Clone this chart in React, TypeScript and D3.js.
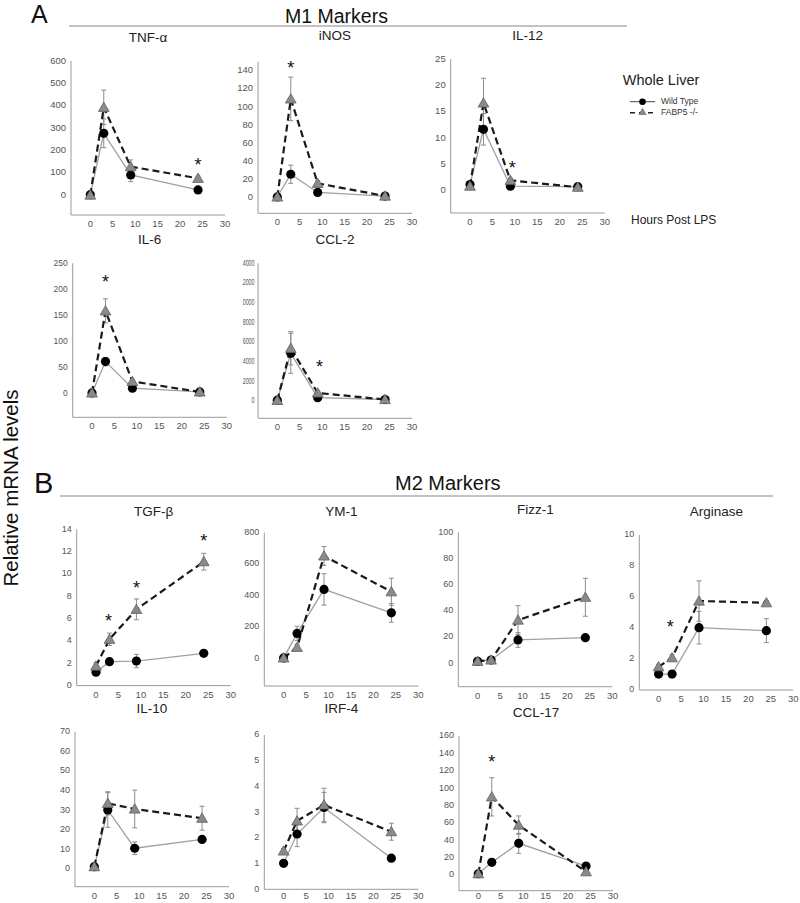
import React from "react";
import * as d3 from "d3";

// ---------- DATA ----------
const hours = [0, 3, 9, 24];
const xTicks = [0, 5, 10, 15, 20, 25, 30];

const tnfWT = [3, 277, 91, 24];
const tnfWTErr = [3, 64, 30, 5];
const tnfKO = [1, 393, 128, 76];
const tnfKOErr = [3, 77, 30, 10];
const tnfTicks = [0, 100, 200, 300, 400, 500, 600];
const tnfStars = [[24, 153]];

const inosWT = [1, 26, 6, 2];
const inosWTErr = [1, 10, 2, 0.5];
const inosKO = [1, 109, 16, 2];
const inosKOErr = [0.5, 24, 3, 0.5];
const inosTicks = [0, 20, 40, 60, 80, 100, 120, 140];
const inosStars = [[3, 148]];

const il12WT = [1.2, 11.7, 0.9, 0.8];
const il12WTErr = [0.3, 3, 0.2, 0.2];
const il12KO = [0.9, 16.7, 2.0, 0.7];
const il12KOErr = [0.3, 4.7, 0.4, 0.2];
const il12Ticks = [0, 5, 10, 15, 20, 25];
const il12Stars = [[9.4, 5.2]];

const il6WT = [2, 62, 11, 4];
const il6WTErr = [1, 8, 3, 1];
const il6KO = [2, 159, 24, 4];
const il6KOErr = [1, 23, 4, 1];
const il6Ticks = [0, 50, 100, 150, 200, 250];
const il6Stars = [[3, 221]];

const ccl2WT = [80, 4850, 340, 150];
const ccl2WTErr = [50, 2035, 150, 50];
const ccl2KO = [60, 5360, 820, 150];
const ccl2KOErr = [50, 1690, 200, 50];
const ccl2Ticks = [0, 2000, 4000, 6000, 8000, 10000, 12000, 14000];
const ccl2Stars = [[9.4, 3830]];

const tgfWT = [1.2, 2.14, 2.2, 2.89];
const tgfWTErr = [0.3, 0.2, 0.6, 0.15];
const tgfKO = [1.75, 4.15, 6.83, 11.1];
const tgfKOErr = [0.3, 0.55, 0.93, 0.75];
const tgfTicks = [0, 2, 4, 6, 8, 10, 12, 14];
const tgfStars = [[2.8, 6.1], [9, 9.1], [24, 13.3]];

const ym1WT = [3, 159, 439, 290];
const ym1WTErr = [5, 45, 100, 60];
const ym1KO = [3, 70, 652, 424];
const ym1KOErr = [5, 20, 60, 86];
const ym1Ticks = [0, 200, 400, 600, 800];
const ym1Stars: number[][] = [];

const fizzWT = [1.5, 2.5, 17.8, 19.5];
const fizzWTErr = [0.5, 1, 5.6, 1.5];
const fizzKO = [1.5, 2.5, 33, 50.4];
const fizzKOErr = [0.5, 1, 11, 14.5];
const fizzTicks = [0, 20, 40, 60, 80, 100];
const fizzStars: number[][] = [];

const argWT = [1.03, 1.03, 4.02, 3.83];
const argWTErr = [0.1, 0.1, 1.05, 0.77];
const argKO = [1.5, 2.08, 5.74, 5.63];
const argKOErr = [0.15, 0.2, 1.3, 0.15];
const argTicks = [0, 2, 4, 6, 8, 10];
const argStars = [[2.6, 4.3]];

const il10WT = [1.2, 30.1, 10.6, 15.1];
const il10WTErr = [0.5, 8.8, 3.2, 1.5];
const il10KO = [1.2, 33.5, 30.6, 25.9];
const il10KOErr = [0.5, 5.9, 9.6, 6.1];
const il10Ticks = [0, 10, 20, 30, 40, 50, 60, 70];
const il10Stars: number[][] = [];

const irfWT = [1.01, 2.15, 3.18, 1.21];
const irfWTErr = [0.05, 0.49, 0.59, 0.05];
const irfKO = [1.49, 2.66, 3.28, 2.24];
const irfKOErr = [0.1, 0.49, 0.65, 0.33];
const irfTicks = [0, 1, 2, 3, 4, 5, 6];
const irfStars: number[][] = [];

const ccl17WT = [1.5, 14.6, 36.5, 10.4];
const ccl17WTErr = [0.5, 2, 11.5, 2];
const ccl17KO = [1.5, 90, 57.5, 3.8];
const ccl17KOErr = [0.5, 22, 10.5, 2];
const ccl17Ticks = [0, 20, 40, 60, 80, 100, 120, 140, 160];
const ccl17Stars = [[3, 135]];

const panelNames = ["TNF-α", "iNOS", "IL-12", "IL-6", "CCL-2", "TGF-β", "YM-1", "Fizz-1", "Arginase", "IL-10", "IRF-4", "CCL-17"];
const legendLabels = ["Wild Type", "FABP5 -/-"];

const series = [
  [tnfWT, tnfWTErr, tnfKO, tnfKOErr, tnfTicks, tnfStars],
  [inosWT, inosWTErr, inosKO, inosKOErr, inosTicks, inosStars],
  [il12WT, il12WTErr, il12KO, il12KOErr, il12Ticks, il12Stars],
  [il6WT, il6WTErr, il6KO, il6KOErr, il6Ticks, il6Stars],
  [ccl2WT, ccl2WTErr, ccl2KO, ccl2KOErr, ccl2Ticks, ccl2Stars],
  [tgfWT, tgfWTErr, tgfKO, tgfKOErr, tgfTicks, tgfStars],
  [ym1WT, ym1WTErr, ym1KO, ym1KOErr, ym1Ticks, ym1Stars],
  [fizzWT, fizzWTErr, fizzKO, fizzKOErr, fizzTicks, fizzStars],
  [argWT, argWTErr, argKO, argKOErr, argTicks, argStars],
  [il10WT, il10WTErr, il10KO, il10KOErr, il10Ticks, il10Stars],
  [irfWT, irfWTErr, irfKO, irfKOErr, irfTicks, irfStars],
  [ccl17WT, ccl17WTErr, ccl17KO, ccl17KOErr, ccl17Ticks, ccl17Stars],
];

// ---------- LAYOUT (pixels) ----------
const layout: any[] = [
  { left: 71, top: 61, bottom: 215, ymin: -88, ymax: 600, ty: 38, tfs: 9.5 },
  { left: 258, top: 61.7, bottom: 213.3, ymin: -17, ymax: 150, ty: 36, tfs: 9.5 },
  { left: 450.7, top: 59.3, bottom: 213, ymin: -4.2, ymax: 25, ty: 36, tfs: 9.5 },
  { left: 72.7, top: 263.3, bottom: 417.3, ymin: -44.6, ymax: 250, ty: 240, tfs: 8.5 },
  { left: 258, top: 263.3, bottom: 418.3, ymin: -1760, ymax: 14000, ty: 240, tfs: 8.5, clipX: 242.5, squeeze: 2.95 },
  { left: 76.7, top: 529.3, bottom: 685.6, ymin: 0, ymax: 14, ty: 512, tfs: 9 },
  { left: 264.3, top: 532.7, bottom: 686, ymin: -176, ymax: 800, ty: 512, tfs: 9 },
  { left: 458.3, top: 532.3, bottom: 686.7, ymin: -17.9, ymax: 100, ty: 510, tfs: 9 },
  { left: 639.3, top: 535, bottom: 690, ymin: 0, ymax: 10, ty: 512, tfs: 9 },
  { left: 75, top: 731.7, bottom: 886.7, ymin: -9, ymax: 70, ty: 709, tfs: 9 },
  { left: 264.3, top: 735, bottom: 889.3, ymin: 0, ymax: 6, ty: 709, tfs: 9 },
  { left: 459, top: 736, bottom: 890.7, ymin: -18, ymax: 160, ty: 713, tfs: 9 },
];

const FONT = "'Liberation Sans', Arial, Helvetica, sans-serif";
const PW = 154;
const XMIN = -4.3;
const XMAX = 30;

const triPath = d3.symbol().type(d3.symbolTriangle).size(50)() as string;

function Panel({ idx }: { idx: number }) {
  const L = layout[idx];
  const [wt, wtErr, ko, koErr, ticks, stars] = series[idx] as any[];
  const x = d3.scaleLinear().domain([XMIN, XMAX]).range([L.left, L.left + PW]);
  const y = d3.scaleLinear().domain([L.ymin, L.ymax]).range([L.bottom, L.top]);
  const line = d3
    .line<number>()
    .x((_, i) => x(hours[i]))
    .y((d) => y(d));
  const clipId = `clip${idx}`;
  const xLabelY = Math.min(L.bottom + 9.5, 896.5);
  const errBars = (vals: number[], errs: number[], key: string) =>
    vals.map((v: number, i: number) => {
      const cx = x(hours[i]);
      const y1 = y(v + errs[i]);
      const y2 = y(v - errs[i]);
      return (
        <g key={key + i} stroke="#8c8c8c" strokeWidth={1}>
          <line x1={cx} x2={cx} y1={y1} y2={y2} />
          <line x1={cx - 2.5} x2={cx + 2.5} y1={y1} y2={y1} />
          <line x1={cx - 2.5} x2={cx + 2.5} y1={y2} y2={y2} />
        </g>
      );
    });
  return (
    <g>
      {L.clipX !== undefined && (
        <defs>
          <clipPath id={clipId}>
            <rect x={L.clipX} y={L.top - 20} width={300} height={220} />
          </clipPath>
        </defs>
      )}
      <text x={L.left + PW / 2} y={L.ty} textAnchor="middle" dominantBaseline="middle" fontSize={13.5} fill="#222">
        {panelNames[idx]}
      </text>
      <line x1={L.left} x2={L.left} y1={L.top} y2={L.bottom} stroke="#9a9a9a" strokeWidth={1} />
      <line x1={L.left} x2={L.left + PW} y1={L.bottom} y2={L.bottom} stroke="#9a9a9a" strokeWidth={1} />
      <g clipPath={L.clipX !== undefined ? `url(#${clipId})` : undefined}>
        {(ticks as number[]).map((t) => {
          const s = String(t);
          const extra: any = L.squeeze
            ? { textLength: s.length * L.squeeze, lengthAdjust: "spacingAndGlyphs" }
            : {};
          return (
            <text key={"yt" + t} x={L.left - (L.squeeze ? 3.5 : 5)} y={y(t)} textAnchor="end" dominantBaseline="middle" fontSize={L.tfs} fill="#555" {...extra}>
              {s}
            </text>
          );
        })}
      </g>
      {xTicks.map((t) => (
        <text key={"xt" + t} x={x(t)} y={xLabelY} textAnchor="middle" dominantBaseline="middle" fontSize={9.5} fill="#555">
          {t}
        </text>
      ))}
      {errBars(wt, wtErr, "we")}
      {errBars(ko, koErr, "ke")}
      <path d={line(wt) as string} fill="none" stroke="#a0a0a0" strokeWidth={1.3} />
      <path d={line(ko) as string} fill="none" stroke="#1a1a1a" strokeWidth={2.2} strokeDasharray="7,4" />
      {(wt as number[]).map((v, i) => (
        <circle key={"c" + i} cx={x(hours[i])} cy={y(v)} r={4.6} fill="#000" />
      ))}
      {(ko as number[]).map((v, i) => (
        <path key={"t" + i} d={triPath} transform={`translate(${x(hours[i])},${y(v) + 1})`} fill="#8a8a8a" stroke="#5f5f5f" strokeWidth={0.8} />
      ))}
      {(stars as number[][]).map((s, i) => (
        <text key={"s" + i} x={x(s[0])} y={y(s[1]) + 10} textAnchor="middle" fontSize={18} fill="#111">
          *
        </text>
      ))}
    </g>
  );
}

export default function App() {
  return (
    <svg
      width={800}
      height={903}
      style={{ position: "absolute", left: 0, top: 0, background: "#fff" }}
      fontFamily={FONT}
    >
      <rect x={0} y={0} width={800} height={903} fill="#fff" />
      <text x={31} y={23} fontSize={25} fill="#111">A</text>
      <text x={285} y={23.3} fontSize={19.5} fill="#111">M1 Markers</text>
      <line x1={69} x2={627} y1={26} y2={26} stroke="#888" strokeWidth={1.2} />
      <text x={34} y={493} fontSize={29} fill="#111">B</text>
      <text x={395} y={490} fontSize={20} fill="#111">M2 Markers</text>
      <line x1={60} x2={773} y1={496} y2={496} stroke="#888" strokeWidth={1.2} />
      <text
        transform="translate(17.5,488) rotate(-90)"
        textAnchor="middle"
        fontSize={20.5}
        fill="#111"
      >
        Relative mRNA levels
      </text>
      <text x={661} y={85} textAnchor="middle" fontSize={14.5} fill="#222">Whole Liver</text>
      <line x1={630} x2={655} y1={101.7} y2={101.7} stroke="#444" strokeWidth={1} />
      <circle cx={642.5} cy={101.7} r={3.3} fill="#000" />
      <text x={661} y={102} dominantBaseline="middle" fontSize={8.5} fill="#333">{legendLabels[0]}</text>
      <line x1={630} x2={655} y1={112.7} y2={112.7} stroke="#222" strokeWidth={1.6} strokeDasharray="5,4" />
      <path d={d3.symbol().type(d3.symbolTriangle).size(22)() as string} transform="translate(642.5,112.5)" fill="#8a8a8a" stroke="#555" strokeWidth={0.6} />
      <text x={661} y={113} dominantBaseline="middle" fontSize={8.5} fill="#333">{legendLabels[1]}</text>
      <text x={631} y={221} dominantBaseline="middle" fontSize={12} fill="#222">Hours Post LPS</text>
      {panelNames.map((_, i) => (
        <Panel key={i} idx={i} />
      ))}
    </svg>
  );
}
